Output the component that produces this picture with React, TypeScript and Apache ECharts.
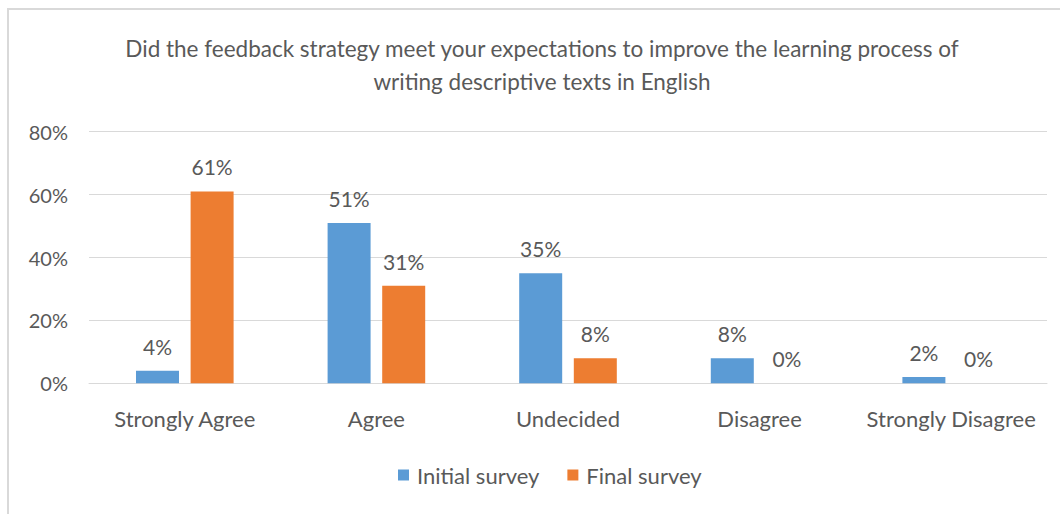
import React, { useEffect, useRef } from "react";
import * as echarts from "echarts";

const categories = ["Strongly Agree", "Agree", "Undecided", "Disagree", "Strongly Disagree"];
const initialSurvey = [4, 51, 35, 8, 2];
const finalSurvey = [61, 31, 8, 0, 0];
const seriesNames = ["Initial survey", "Final survey"];
const titleText = "Did the feedback strategy meet your expectations to improve the learning process of\nwriting descriptive texts in English";

const FONT = "Lato, 'Liberation Sans', sans-serif";
const TXT = "#595959";

export default function App() {
  const ref = useRef<HTMLDivElement>(null);
  useEffect(() => {
    const chart = echarts.init(ref.current!, null, { renderer: "svg" });
    const label = {
      show: true,
      position: "top" as const,
      distance: 14,
      color: TXT,
      fontFamily: FONT,
      fontSize: 21,
      formatter: (p: any) => p.value + "%",
    };
    chart.setOption({
      animation: false,
      backgroundColor: "#ffffff",
      textStyle: { fontFamily: FONT },
      graphic: [
        {
          type: "rect",
          shape: { x: 8, y: 9, width: 1080, height: 540 },
          style: { fill: "none", stroke: "#d9d9d9", lineWidth: 2 },
          silent: true,
        },
        {
          type: "text",
          x: 542,
          y: 31.5,
          silent: true,
          style: {
            text: titleText,
            align: "center",
            verticalAlign: "top",
            fill: TXT,
            fontFamily: FONT,
            fontSize: 22.5,
            lineHeight: 33,
          },
        },
      ],
      legend: {
        data: seriesNames,
        bottom: 23,
        left: 393,
        itemWidth: 11,
        itemHeight: 11,
        itemGap: 28,
        icon: "rect",
        textStyle: { color: TXT, fontFamily: FONT, fontSize: 22, padding: [0, 0, 0, 3] },
      },
      grid: { left: 89, right: 13, top: 131.7, bottom: 130.7, containLabel: false },
      xAxis: {
        type: "category",
        data: categories,
        axisLine: { show: true, lineStyle: { color: "#d9d9d9", width: 1 } },
        axisTick: { show: false },
        axisLabel: { color: TXT, fontFamily: FONT, fontSize: 22, margin: 24, interval: 0 },
      },
      yAxis: {
        type: "value",
        min: 0,
        max: 80,
        interval: 20,
        axisLine: { show: false },
        axisTick: { show: false },
        splitLine: { lineStyle: { color: "#d9d9d9", width: 1 } },
        axisLabel: { color: TXT, fontFamily: FONT, fontSize: 20, margin: 21, formatter: "{value}%" },
      },
      series: [
        {
          name: seriesNames[0],
          type: "bar",
          data: initialSurvey,
          barWidth: 43,
          barGap: "27%",
          itemStyle: { color: "#5B9BD5" },
          label,
        },
        {
          name: seriesNames[1],
          type: "bar",
          data: finalSurvey,
          barWidth: 43,
          barGap: "27%",
          itemStyle: { color: "#ED7D31" },
          label,
        },
      ],
    });
    return () => chart.dispose();
  }, []);
  return (
    <div
      ref={ref}
      style={{ position: "absolute", left: 0, top: 0, width: 1060, height: 514 }}
    />
  );
}
